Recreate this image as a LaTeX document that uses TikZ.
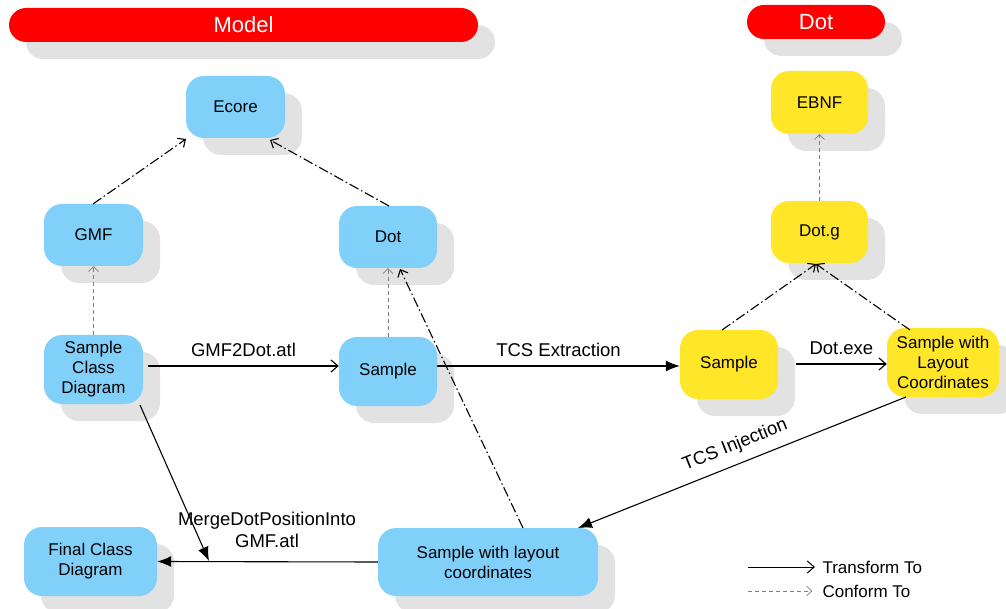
\documentclass[tikz,border=0pt]{standalone}
\usepackage{fontspec}
\setmainfont{Liberation Sans}
\usetikzlibrary{arrows.meta,shadows}
\definecolor{nblue}{RGB}{128,208,250}
\definecolor{nyellow}{RGB}{255,230,40}
\definecolor{nred}{RGB}{255,0,0}
\definecolor{nshadow}{RGB}{226,226,226}
\tikzset{
  shad/.style={drop shadow={shadow xshift=17pt,shadow yshift=-17pt,fill=nshadow,opacity=1}},
  bluebox/.style={shad,fill=nblue,rounded corners=18pt,align=center,inner sep=0pt,
    font=\fontsize{17}{20}\selectfont},
  yellowbox/.style={bluebox,fill=nyellow},
  header/.style={shad,fill=nred,rounded corners=17pt,text=white,inner sep=0pt,
    font=\fontsize{22}{26}\selectfont},
  transf/.style={line width=1.1pt,-{Straight Barb[length=7pt,width=12pt]}},
  transfill/.style={line width=1.1pt,-{Latex[length=14pt,width=11pt]}},
  conf/.style={line width=1.1pt,dash pattern=on 10pt off 3pt on 1.5pt off 3pt,
    -{Straight Barb[length=6pt,width=11pt]}},
  confthin/.style={line width=0.6pt,gray,dash pattern=on 4pt off 3pt,
    -{Straight Barb[length=5pt,width=10pt]}},
  lbl/.style={font=\fontsize{18.5}{22}\selectfont,align=center},
  leg/.style={font=\fontsize{17}{20}\selectfont,text=black},
}
\begin{document}
\begin{tikzpicture}[x=1pt,y=-1pt]
\useasboundingbox (0,0) rectangle (1006,609);
% headers
\node[header,minimum width=469pt,minimum height=34pt] (model) at (243.5,25) {Model};
\node[header,minimum width=138pt,minimum height=34pt] (dothdr) at (816,22) {Dot};
% blue nodes
\node[bluebox,minimum width=99pt,minimum height=62pt] (ecore) at (235.5,107) {Ecore};
\node[bluebox,minimum width=99pt,minimum height=62pt] (gmf) at (93.5,235) {GMF};
\node[bluebox,minimum width=98pt,minimum height=62pt] (dotm) at (388,237) {Dot};
\node[bluebox,minimum width=99pt,minimum height=69pt] (scd) at (93.5,369.5) {Sample\\Class\\Diagram};
\node[bluebox,minimum width=98pt,minimum height=69pt] (samp) at (388,371.5) {Sample};
\node[bluebox,minimum width=133pt,minimum height=69pt] (final) at (90.5,561.5) {Final Class\\Diagram};
\node[bluebox,minimum width=220pt,minimum height=68pt] (swl) at (488,562) {Sample with layout\\coordinates};
% yellow nodes
\node[yellowbox,minimum width=97pt,minimum height=63pt] (ebnf) at (819.5,102.5) {EBNF};
\node[yellowbox,minimum width=97pt,minimum height=62pt] (dotg) at (819.5,232) {Dot.g};
\node[yellowbox,minimum width=98pt,minimum height=69pt] (ysamp) at (729,364.5) {Sample};
\node[yellowbox,minimum width=112pt,minimum height=69pt] (swlc) at (943,362.5) {Sample with\\Layout\\Coordinates};
% coordinates
\coordinate (m) at (209,561);
\coordinate (ecoreL) at (186,139);
\coordinate (ecoreR) at (270,140);
\coordinate (gmfT) at (93,204);
\coordinate (dotmT) at (389,206);
\coordinate (dotmB) at (400,269);
\coordinate (swlT) at (523,528);
\coordinate (dotgB) at (816,264);
\coordinate (ysampT) at (722,330);
\coordinate (swlcT) at (910,330);
\coordinate (swlcB) at (906,397);
\coordinate (swlTR) at (578,528);
\coordinate (scdB) at (140,405);
\coordinate (ysampR) at (796,364);
% transform arrows
\draw[transf] (scd.east|-0,366) ++(5,0) coordinate (scdR) -- (samp.west|-0,366)
  node[lbl,midway,above=5pt] {GMF2Dot.atl};
\draw[transfill] (samp.east|-0,366) -- (ysamp.west|-0,366)
  node[lbl,midway,above=5pt] {TCS Extraction};
\draw[transf] (ysampR) -- (swlc.west|-0,364)
  node[lbl,midway,above=5pt] {Dot.exe};
\draw[transfill] (swlcB) -- (swlTR)
  node[lbl,midway,sloped,above=6pt] {TCS Injection};
\draw[transfill] (swl.west) -- (final.east);
\draw[transfill] (scdB) -- (m);
\node[lbl] (mlbl) at (267,530) {MergeDotPositionInto\\GMF.atl};
% conform arrows
\draw[conf] (gmfT) -- (ecoreL);
\draw[conf] (dotmT) -- (ecoreR);
\draw[conf] (swlT) -- (dotmB);
\draw[conf] (ysampT) -- (dotgB);
\draw[conf] (swlcT) -- (dotgB);
\draw[confthin] (scd.north) -- (gmf.south);
\draw[confthin] (samp.north) -- (dotm.south);
\draw[confthin] (dotg.north) -- (ebnf.south);
% legend
\coordinate (l1a) at (748,567);
\coordinate (l1b) at (815,567);
\coordinate (l2a) at (748,591);
\coordinate (l2b) at (812,591);
\draw[line width=1pt,-{Straight Barb[length=7pt,width=12pt]}] (l1a) -- (l1b);
\node[leg,anchor=west] (lt) at (819,567) {Transform To};
\draw[confthin] (l2a) -- (l2b);
\node[leg,anchor=west] (lc) at (819,591) {Conform To};
\end{tikzpicture}
\end{document}
